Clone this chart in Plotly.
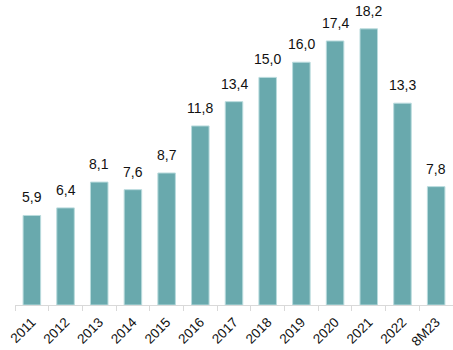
import plotly.graph_objects as go

# Annual values by period
periods = ["2011", "2012", "2013", "2014", "2015", "2016", "2017",
           "2018", "2019", "2020", "2021", "2022", "8M23"]
values = [5.9, 6.4, 8.1, 7.6, 8.7, 11.8, 13.4, 15.0, 16.0, 17.4, 18.2, 13.3, 7.8]

labels = [f"{v:.1f}".replace(".", ",") for v in values]

FONT = "Liberation Sans, Arial, sans-serif"

fig = go.Figure(
    go.Bar(
        x=periods,
        y=values,
        marker=dict(color="#69a9ad", line=dict(color="#b9dbdd", width=1)),
        width=0.52,
        cliponaxis=False,
    )
)

fig.update_layout(
    width=453,
    height=350,
    margin=dict(l=15, r=0, t=0, b=45, autoexpand=False),
    paper_bgcolor="white",
    plot_bgcolor="white",
    showlegend=False,
)

fig.update_xaxes(
    type="category",
    categoryorder="array",
    categoryarray=periods,
    automargin=False,
    tickangle=-45,
    tickfont=dict(family=FONT, size=13.5, color="#111111"),
    ticklabelstandoff=3,
    showline=True,
    linecolor="#d9d9d9",
    linewidth=1,
    ticks="outside",
    tickson="boundaries",
    ticklen=5,
    tickcolor="#d9d9d9",
    showgrid=False,
)

fig.update_yaxes(
    range=[0, 20.1],
    visible=False,
    showgrid=False,
    zeroline=False,
)

# Value labels sitting above each bar (x given as category index)
for i, (v, t) in enumerate(zip(values, labels)):
    fig.add_annotation(
        x=i, y=v, xref="x", yref="y", text=t, showarrow=False,
        xanchor="center", yanchor="bottom", yshift=8,
        font=dict(family=FONT, size=14, color="#111111"),
    )

fig.write_html("out.html")
